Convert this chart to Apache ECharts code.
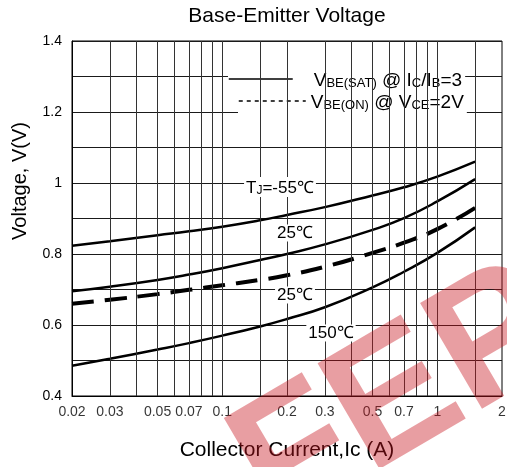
<!DOCTYPE html>
<html>
<head>
<meta charset="utf-8">
<script src="https://cdn.jsdelivr.net/npm/echarts@6/dist/echarts.min.js"></script>
<style>
  html, body { margin: 0; padding: 0; background: #fff; }
  #chart { width: 507px; height: 467px; }
</style>
</head>
<body>
<div id="chart"></div>
<script>
// collector current (A)
const ic = [0.02, 0.03, 0.05, 0.07, 0.1, 0.15, 0.2, 0.3, 0.5, 0.7, 1.0, 1.5];
// VBE(SAT) @ Ic/Ib=3
const vbeSatM55 = [0.823, 0.836, 0.853, 0.864, 0.877, 0.895, 0.910, 0.932, 0.965, 0.988, 1.018, 1.060];
const vbeSat25 = [0.695, 0.708, 0.727, 0.742, 0.760, 0.783, 0.800, 0.827, 0.868, 0.901, 0.948, 1.011];
const vbeSat150 = [0.485, 0.505, 0.531, 0.549, 0.570, 0.596, 0.617, 0.650, 0.706, 0.750, 0.803, 0.875];
// VBE(ON) @ Vce=2V
const vbeOn25 = [0.660, 0.671, 0.687, 0.699, 0.712, 0.727, 0.740, 0.764, 0.803, 0.832, 0.870, 0.930];

const xTickLabels = [0.02, 0.03, 0.05, 0.07, 0.1, 0.2, 0.3, 0.5, 0.7, 1, 2];
const xGridLines = [0.03, 0.04, 0.05, 0.06, 0.07, 0.08, 0.09, 0.1, 0.15, 0.2, 0.3, 0.4, 0.5, 0.6, 0.7, 0.8, 0.9, 1, 1.5];

const satName = 'VBE(SAT) @ IC/IB=3';
const onName = 'VBE(ON) @ VCE=2V';
const FONT = '"Liberation Sans", Arial, sans-serif';

const pairs = ys => ic.map((x, i) => [x, ys[i]]);

const richLegend = {
    b: { fontSize: 19, fontFamily: FONT, color: '#000', verticalAlign: 'bottom', lineHeight: 22 },
    s: { fontSize: 13, fontFamily: FONT, color: '#000', verticalAlign: 'bottom', lineHeight: 22 }
};

const chart = echarts.init(document.getElementById('chart'));

const solid = (data) => ({
    name: satName,
    type: 'line',
    data: pairs(data),
    smooth: 0.5,
    symbol: 'none',
    color: '#000',
    lineStyle: { color: '#000', width: 2.5 },
    z: 3
});

const option = {
    animation: false,
    backgroundColor: '#fff',
    title: {
        text: 'Base-Emitter Voltage',
        left: 282,
        top: 1,
        textAlign: 'center',
        textStyle: { fontSize: 21, fontWeight: 'normal', color: '#000', fontFamily: FONT }
    },
    grid: {
        left: 72, right: 5, top: 41, bottom: 71,
        show: true, borderColor: '#000', borderWidth: 1
    },
    legend: [
        {
            data: [satName],
            left: 228, top: 64,
            orient: 'vertical',
            itemWidth: 64, itemHeight: 14,
            backgroundColor: '#fff',
            padding: [7, 3, 3, 0],
            selectedMode: false,
            itemStyle: { opacity: 0 },
            lineStyle: { width: 1.5, color: '#000' },
            formatter: () => '{b|V}{s|BE(SAT)}{b| @ I}{s|C}{b|/I}{s|B}{b|=3}',
            textStyle: { rich: richLegend, padding: [0, 0, 0, 16] }
        },
        {
            data: [onName],
            left: 238, top: 92,
            orient: 'vertical',
            itemWidth: 67, itemHeight: 14,
            backgroundColor: '#fff',
            padding: [1, 3, 4, 0],
            selectedMode: false,
            itemStyle: { opacity: 0 },
            lineStyle: { width: 1.5, color: '#000', type: [4, 4] },
            formatter: () => '{b|V}{s|BE(ON)}{b| @ V}{s|CE}{b|=2V}',
            textStyle: { rich: richLegend }
        }
    ],
    xAxis: {
        type: 'log',
        logBase: 10,
        min: 0.02,
        max: 2,
        name: 'Collector Current,Ic (A)',
        nameLocation: 'middle',
        nameGap: 44,
        nameTextStyle: { fontSize: 21, color: '#000', fontFamily: FONT },
        axisLine: { lineStyle: { color: '#000', width: 1 } },
        axisTick: { show: false },
        axisLabel: { show: false },
        splitLine: { show: false }
    },
    yAxis: {
        type: 'value',
        min: 0.4,
        max: 1.4,
        interval: 0.1,
        axisLine: { show: true, lineStyle: { color: '#000', width: 1 } },
        axisTick: { show: false },
        axisLabel: {
            margin: 10,
            fontSize: 14,
            color: '#000',
            fontFamily: FONT,
            formatter: v => (Math.round(v * 10) % 2 === 0 ? String(+v.toFixed(1)) : '')
        },
        splitLine: { show: true, lineStyle: { color: '#1a1a1a', width: 1 } }
    },
    series: [
        solid(vbeSatM55),
        solid(vbeSat25),
        solid(vbeSat150),
        {
            name: onName,
            type: 'line',
            data: pairs(vbeOn25),
            smooth: 0.5,
            symbol: 'none',
            color: '#000',
            lineStyle: { color: '#000', width: 4, type: [22, 11] },
            z: 3
        },
        {
            // x tick labels and vertical grid lines
            type: 'scatter',
            data: xTickLabels.map(v => [v, 0.4]),
            symbolSize: 0,
            clip: false,
            silent: true,
            label: {
                show: true,
                position: 'bottom',
                distance: 9,
                fontSize: 14,
                color: '#000',
                fontFamily: FONT,
                formatter: p => String(p.value[0])
            },
            markLine: {
                silent: true,
                symbol: 'none',
                label: { show: false },
                lineStyle: { color: '#333', width: 1, type: 'solid' },
                data: xGridLines.map(v => ({ xAxis: v }))
            },
            z: 1
        }
    ],
    graphic: [
        {
            type: 'text', x: 20, y: 181, rotation: Math.PI / 2,
            style: { text: 'Voltage, V(V)', fontSize: 20, fontFamily: FONT, fill: '#000', align: 'center', verticalAlign: 'middle' }
        },
        {
            type: 'text', x: 280, y: 187, z: 10,
            style: {
                text: '{b|T}{s|J}{b|=-55℃}',
                rich: {
                    b: { fontSize: 17, fontFamily: FONT, fill: '#000', verticalAlign: 'bottom', lineHeight: 20 },
                    s: { fontSize: 12, fontFamily: FONT, fill: '#000', verticalAlign: 'bottom', lineHeight: 20 }
                },
                align: 'center', verticalAlign: 'middle', backgroundColor: '#fff', padding: [0, 2]
            }
        },
        {
            type: 'text', x: 295, y: 233, z: 10,
            style: { text: '25℃', fontSize: 17, fontFamily: FONT, fill: '#000', align: 'center', verticalAlign: 'middle', backgroundColor: '#fff', padding: [0, 2] }
        },
        {
            type: 'text', x: 295, y: 295, z: 10,
            style: { text: '25℃', fontSize: 17, fontFamily: FONT, fill: '#000', align: 'center', verticalAlign: 'middle', backgroundColor: '#fff', padding: [0, 2] }
        },
        {
            type: 'text', x: 331, y: 333, z: 10,
            style: { text: '150℃', fontSize: 17, fontFamily: FONT, fill: '#000', align: 'center', verticalAlign: 'middle', backgroundColor: '#fff', padding: [0, 2] }
        },
        {
            // watermark
            type: 'text', x: 400, y: 400, rotation: 0.53, z: 100,
            style: {
                text: 'FEP', fontSize: 178, fontWeight: 'bold', fontFamily: FONT,
                fill: 'rgba(200, 20, 30, 0.41)', align: 'center', verticalAlign: 'middle'
            }
        }
    ]
};

chart.setOption(option);
</script>
</body>
</html>
